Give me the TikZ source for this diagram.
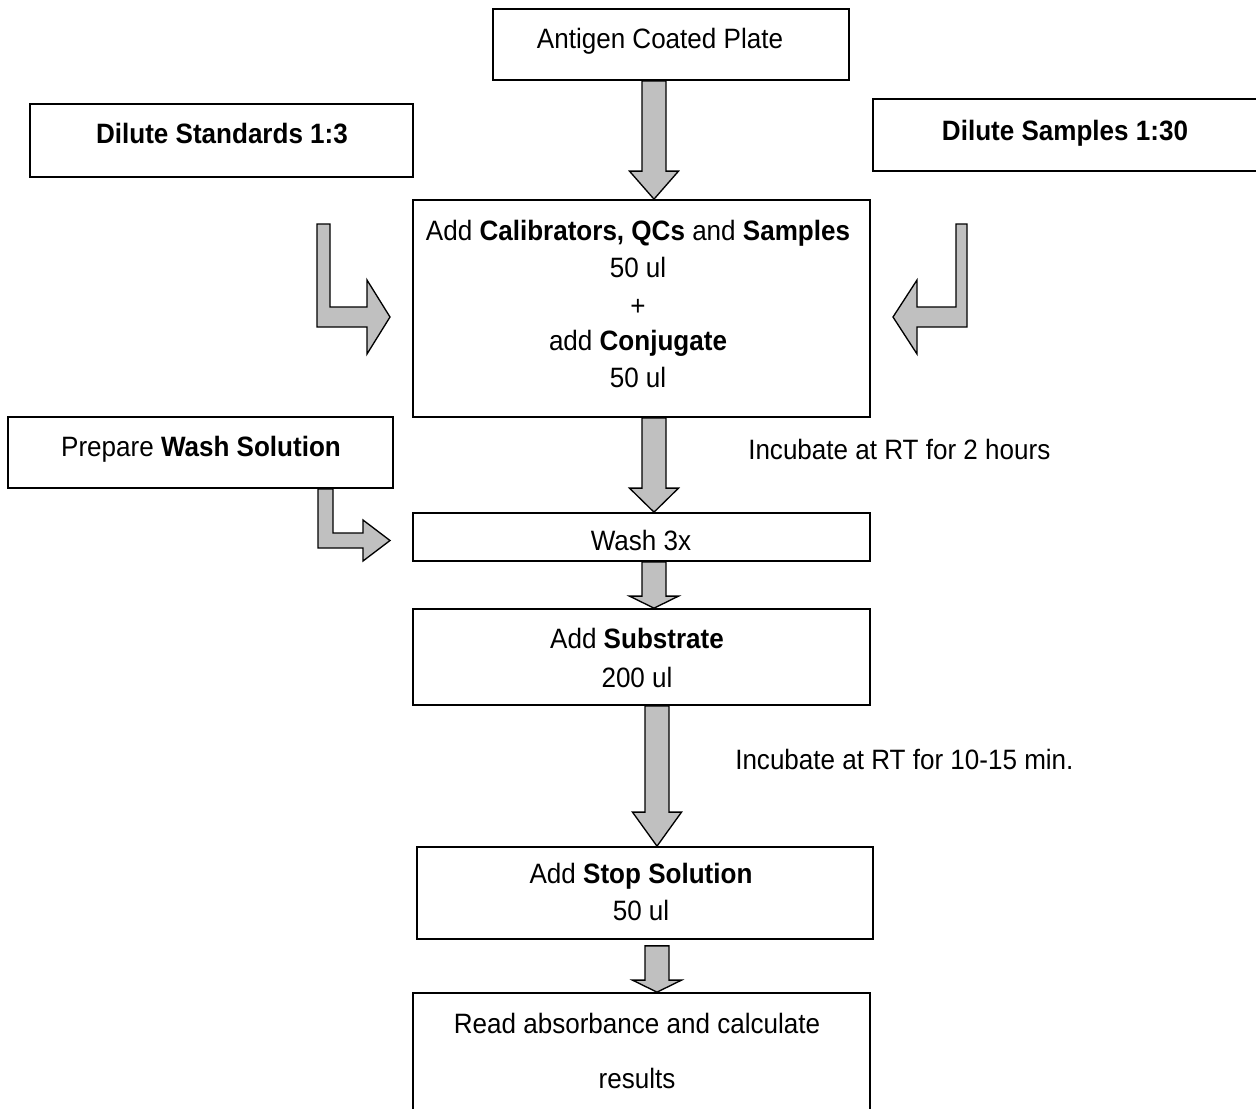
\documentclass[tikz,border=0pt]{standalone}
\usepackage{fontspec}
\setmainfont{Liberation Sans}[FakeStretch=0.93]
\usetikzlibrary{calc}
\definecolor{arrowgray}{HTML}{C0C0C0}
\tikzset{
  bx/.style={draw, line width=1.3pt, inner sep=0pt},
  lbl/.style={anchor=base, inner sep=0pt, font=\fontsize{21}{26}\selectfont},
  lblw/.style={lbl, anchor=base west},
  blkarrow/.style={draw, line width=1pt, fill=arrowgray, line join=miter},
}
% box from pixel corners: name, x1, y1, x2, y2
\newcommand\pbox[5]{\node[bx, minimum width={(#4-#2)*0.75pt}, minimum height={(#5-#3)*0.75pt}] (#1) at ({(#2+#4)/2},{(#3+#5)/2}) {};}
% vertical block arrow: start coord, tip coord, half shaft, half head, head length
\newcommand\blkdn[5]{\draw[blkarrow] ($(#1)+(-#3,0)$) -- ($(#1)+(#3,0)$) -- ($(#2)+(#3,-#5)$) -- ($(#2)+(#4,-#5)$) -- (#2) -- ($(#2)+(-#4,-#5)$) -- ($(#2)+(-#3,-#5)$) -- cycle;}
\begin{document}
\begin{tikzpicture}[x=0.75pt, y=-0.75pt]
\useasboundingbox (0,0) rectangle (1256,1108);

% boxes
\pbox{ant}{493}{9}{849}{80}
\pbox{std}{30}{104}{413}{177}
\pbox{smp}{873}{99}{1262}{171}
\pbox{main}{413}{200}{870}{417}
\pbox{prep}{8}{417}{393}{488}
\pbox{wash}{413}{513}{870}{561}
\pbox{sub}{413}{609}{870}{705}
\pbox{stop}{417}{847}{873}{939}
\pbox{res}{413}{993}{870}{1115}

% texts
\node[lbl] (tant) at (660,48) {Antigen Coated Plate};
\node[lbl] (tstd) at (222,143) {\textbf{Dilute Standards 1:3}};
\node[lbl] (tsmp) at (1065,140) {\textbf{Dilute Samples 1:30}};
\node[lbl] (tm1) at (638,240) {Add \textbf{Calibrators, QCs} and \textbf{Samples}};
\node[lbl] (tm2) at (638,277) {50 ul};
\node[lbl] (tm3) at (638,315) {+};
\node[lbl] (tm4) at (638,350) {add \textbf{Conjugate}};
\node[lbl] (tm5) at (638,387) {50 ul};
\node[lbl] (tprep) at (201,456) {Prepare \textbf{Wash Solution}};
\node[lblw] (tinc1) at (748,459) {Incubate at RT for 2 hours};
\node[lbl] (twash) at (641,550) {Wash 3x};
\node[lbl] (ts1) at (637,648) {Add \textbf{Substrate}};
\node[lbl] (ts2) at (637,687) {200 ul};
\node[lblw] (tinc2) at (735,769) {Incubate at RT for 10-15 min.};
\node[lbl] (tst1) at (641,883) {Add \textbf{Stop Solution}};
\node[lbl] (tst2) at (641,920) {50 ul};
\node[lbl] (tr1) at (637,1033) {Read absorbance and calculate};
\node[lbl] (tr2) at (637,1088) {results};

% vertical block arrows
\coordinate (a1s) at (654,0 |- ant.south);
\coordinate (a1e) at (654,0 |- main.north);
\blkdn{a1s}{a1e}{12}{24.5}{28}
\coordinate (a2s) at (654,0 |- main.south);
\coordinate (a2e) at (654,0 |- wash.north);
\blkdn{a2s}{a2e}{12}{24.5}{24}
\coordinate (a3s) at (654,0 |- wash.south);
\coordinate (a3e) at (654,0 |- sub.north);
\blkdn{a3s}{a3e}{12}{24.5}{12}
\coordinate (a4s) at (657,0 |- sub.south);
\coordinate (a4e) at (657,0 |- stop.north);
\blkdn{a4s}{a4e}{12}{24.5}{34}
\coordinate (a5s) at ($(657,0 |- stop.south)+(0,6)$);
\coordinate (a5e) at (657,0 |- res.north);
\blkdn{a5s}{a5e}{12}{24.5}{12}

% bent block arrows
\coordinate (l1e) at (390,317);
\draw[blkarrow] (317,224) -- (330,224) -- (330,307) -- (367,307) -- (367,280) -- (l1e) -- (367,354) -- (367,327) -- (317,327) -- cycle;
\coordinate (r1e) at (893,317);
\draw[blkarrow] (967,224) -- (956,224) -- (956,307) -- (917,307) -- (917,280) -- (r1e) -- (917,354) -- (917,327) -- (967,327) -- cycle;
\coordinate (w1s) at (318,0 |- prep.south);
\coordinate (w1e) at (390,540.5);
\draw[blkarrow] (w1s) -- (333,0 |- prep.south) -- (333,533) -- (363,533) -- (363,520) -- (w1e) -- (363,561) -- (363,548) -- (318,548) -- cycle;
\end{tikzpicture}
\end{document}
